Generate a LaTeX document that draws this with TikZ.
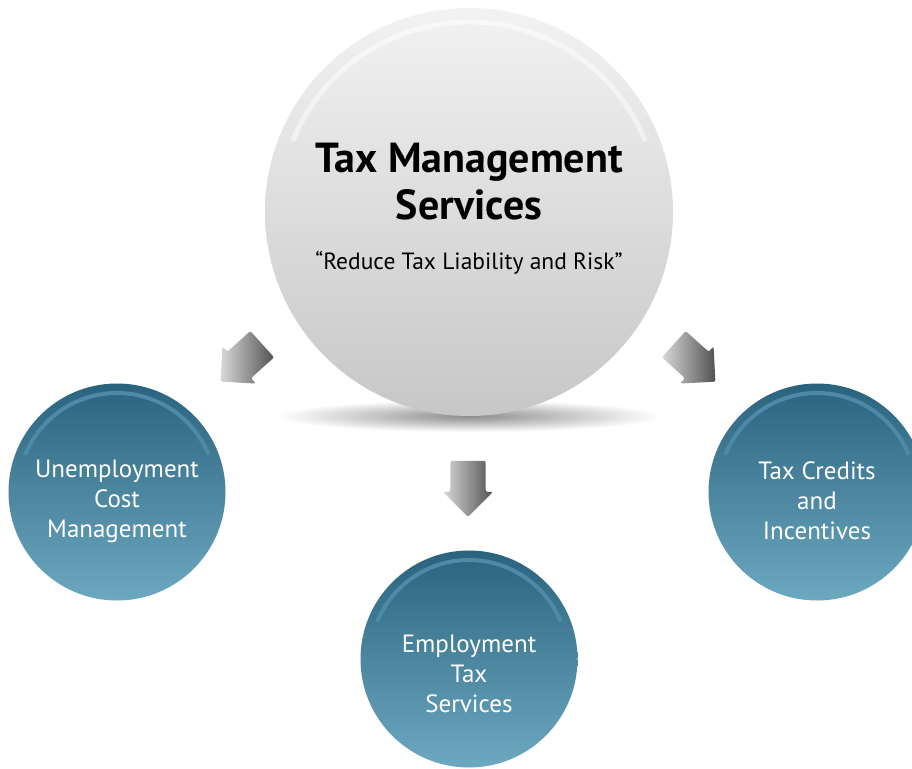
\documentclass[tikz,border=0pt]{standalone}
\usepackage{fontspec}
\setmainfont{PT Sans}
\usetikzlibrary{shapes.arrows,positioning}
\definecolor{tealtop}{HTML}{2A637D}
\definecolor{tealbot}{HTML}{6DA8C1}
\definecolor{tealrim}{HTML}{4C8AA8}
\tikzset{
  ball/.style={circle,minimum size=408pt,inner sep=0pt,
    top color=white!95!black,bottom color=black!22},
  bubble/.style={circle,minimum size=217pt,inner sep=0pt,
    top color=tealtop,bottom color=tealbot},
  bubbletext/.style={text=white,align=center,
    font=\fontsize{25}{30}\selectfont},
  fatarrow/.style={single arrow,minimum height=56pt,minimum width=50pt,
    inner xsep=0pt,inner ysep=12pt,single arrow head extend=5pt,
    rounded corners=2pt,left color=black!15,right color=black!68},
  rim/.style={line width=4pt,tealrim},
}

\begin{document}
\begin{tikzpicture}[x=1pt,y=-1pt]
\useasboundingbox[fill=white] (0,0) rectangle (912,768);

% shadow under the ball
\shade[inner color=black!45,outer color=white] (469,416) ellipse [x radius=192pt,y radius=16pt];

\node[ball] (tax) at (469,212) {};
\draw[white,line width=5pt,opacity=.5] (tax.center) ++(158:190pt) arc[start angle=158,end angle=22,radius=190pt];
\node[font=\fontsize{42}{47}\selectfont\bfseries,align=center] (taxTitle) at (469,182) {Tax Management\\Services};
\node[font=\fontsize{23.5}{26}\selectfont,below=24pt of taxTitle] (taxQuote) {``Reduce Tax Liability and Risk''};

% arrows
\node[fatarrow,rotate=222] (arrowL) at (248,357) {};
\node[fatarrow,rotate=-90] (arrowD) at (468,480) {};
\node[fatarrow,rotate=-42] (arrowR) at (688,357) {};

% the three bubbles
\node[bubble] (unemp) at (117,492) {};
\node[bubble] (credits) at (817,492) {};
\node[bubble] (employ) at (469,659) {};
\foreach \b in {unemp,credits,employ}
  \draw[rim] (\b.center) ++(158:99pt) arc[start angle=158,end angle=22,radius=99pt];

\node[bubbletext] (unempText) at ([yshift=-9pt]unemp.center) {Unemployment\\Cost\\Management};
\node[bubbletext] (creditsText) at ([yshift=-9pt]credits.center) {Tax Credits\\and\\Incentives};
\node[bubbletext] (employText) at ([yshift=-15pt]employ.center) {Employment\\Tax\\Services};
\end{tikzpicture}
\end{document}
